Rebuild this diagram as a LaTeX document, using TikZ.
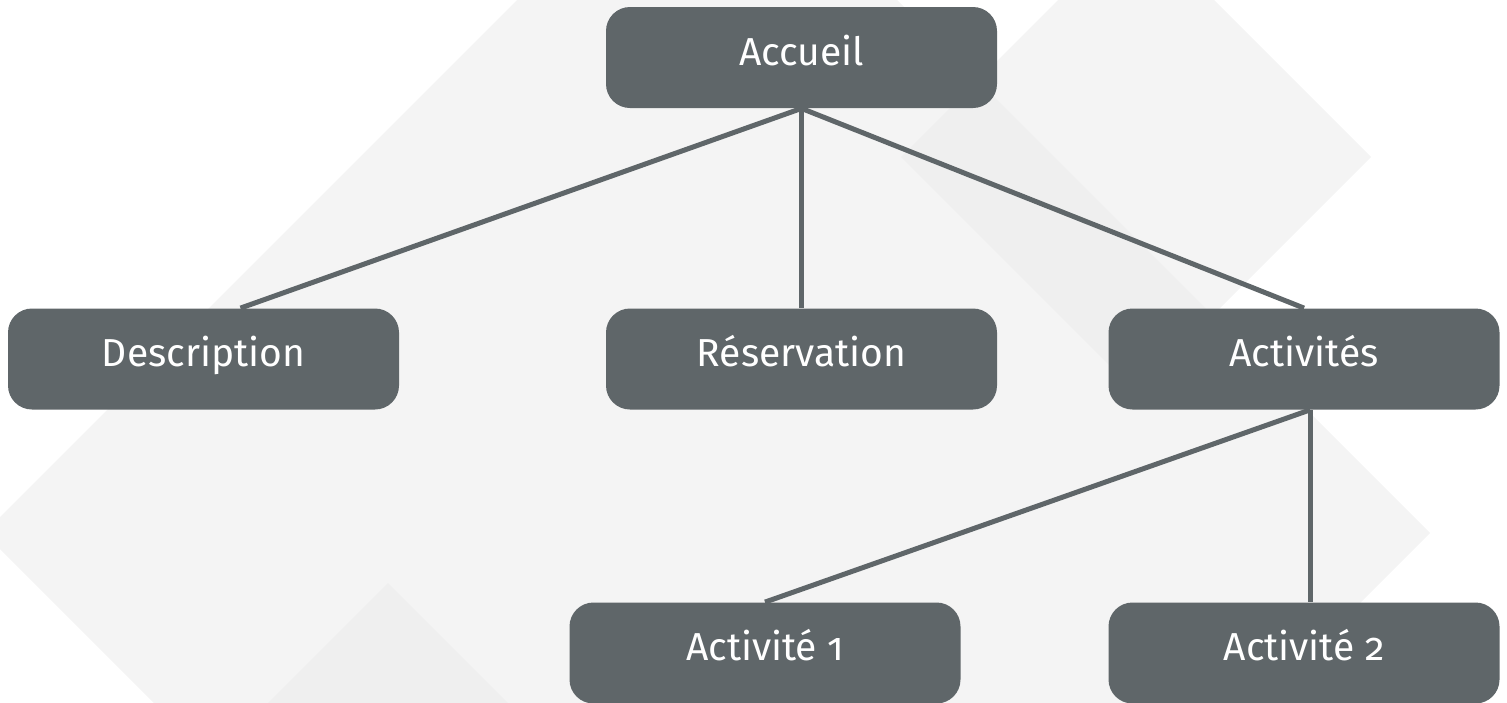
\documentclass[tikz,border=0pt]{standalone}
\usepackage{fontspec}
\setmainfont[Numbers=OldStyle]{Fira Sans}
\usetikzlibrary{positioning}
\definecolor{boxgrey}{HTML}{5F6669}
\definecolor{tilegrey}{HTML}{F4F4F4}
\definecolor{overlapgrey}{HTML}{EFEFEF}

\tikzset{
	page/.style={box/.style={fill=boxgrey, text=white, rounded corners=12pt,
		minimum width=195.5pt, minimum height=50.5pt, text height=13.5pt, text depth=6pt,
		inner sep=0pt, font=\fontsize{19.5}{21}\selectfont},
	link/.style={draw=boxgrey, line width=2.5pt}}
}

\begin{document}
\begin{tikzpicture}[x=0.5pt,y=-0.5pt,page]
	\useasboundingbox (0,0) rectangle (1507,702);
	% background
	\begin{scope}
	\clip (0,0) rectangle (1507,702);
	\fill[tilegrey] (707,-190) -- (1430,533) -- (707,1256) -- (-16,533) -- cycle;
	\fill[tilegrey] (1136,-78) -- (1371,157) -- (1136,392) -- (901,157) -- cycle;
	\begin{scope}
	\clip (707,-190) -- (1430,533) -- (707,1256) -- (-16,533) -- cycle;
	\fill[overlapgrey] (1136,-78) -- (1371,157) -- (1136,392) -- (901,157) -- cycle;
	\fill[overlapgrey] (388,583) -- (588,783) -- (388,983) -- (188,783) -- cycle;
	\end{scope}
	\end{scope}

	\node[box] (accueil) at (801.5,57.5) {Accueil};
	\node[box] (description) at (203.5,359) {Description};
	\node[box] (reservation) at (801.5,359) {Réservation};
	\node[box] (activites) at (1304,359) {Activités};
	\node[box] (activite1) at (765,653) {Activité 1};
	\node[box] (activite2) at (1304,653) {Activité 2};

	\draw[link] (accueil.south) -- ([xshift=18.5pt]description.north);
	\draw[link] (accueil.south) -- (reservation.north);
	\draw[link] (accueil.south) -- (activites.north);
	\draw[link] ([xshift=3pt]activites.south) -- (activite1.north);
	\draw[link] ([xshift=3pt]activites.south) -- ([xshift=3pt]activite2.north);
\end{tikzpicture}
\end{document}
